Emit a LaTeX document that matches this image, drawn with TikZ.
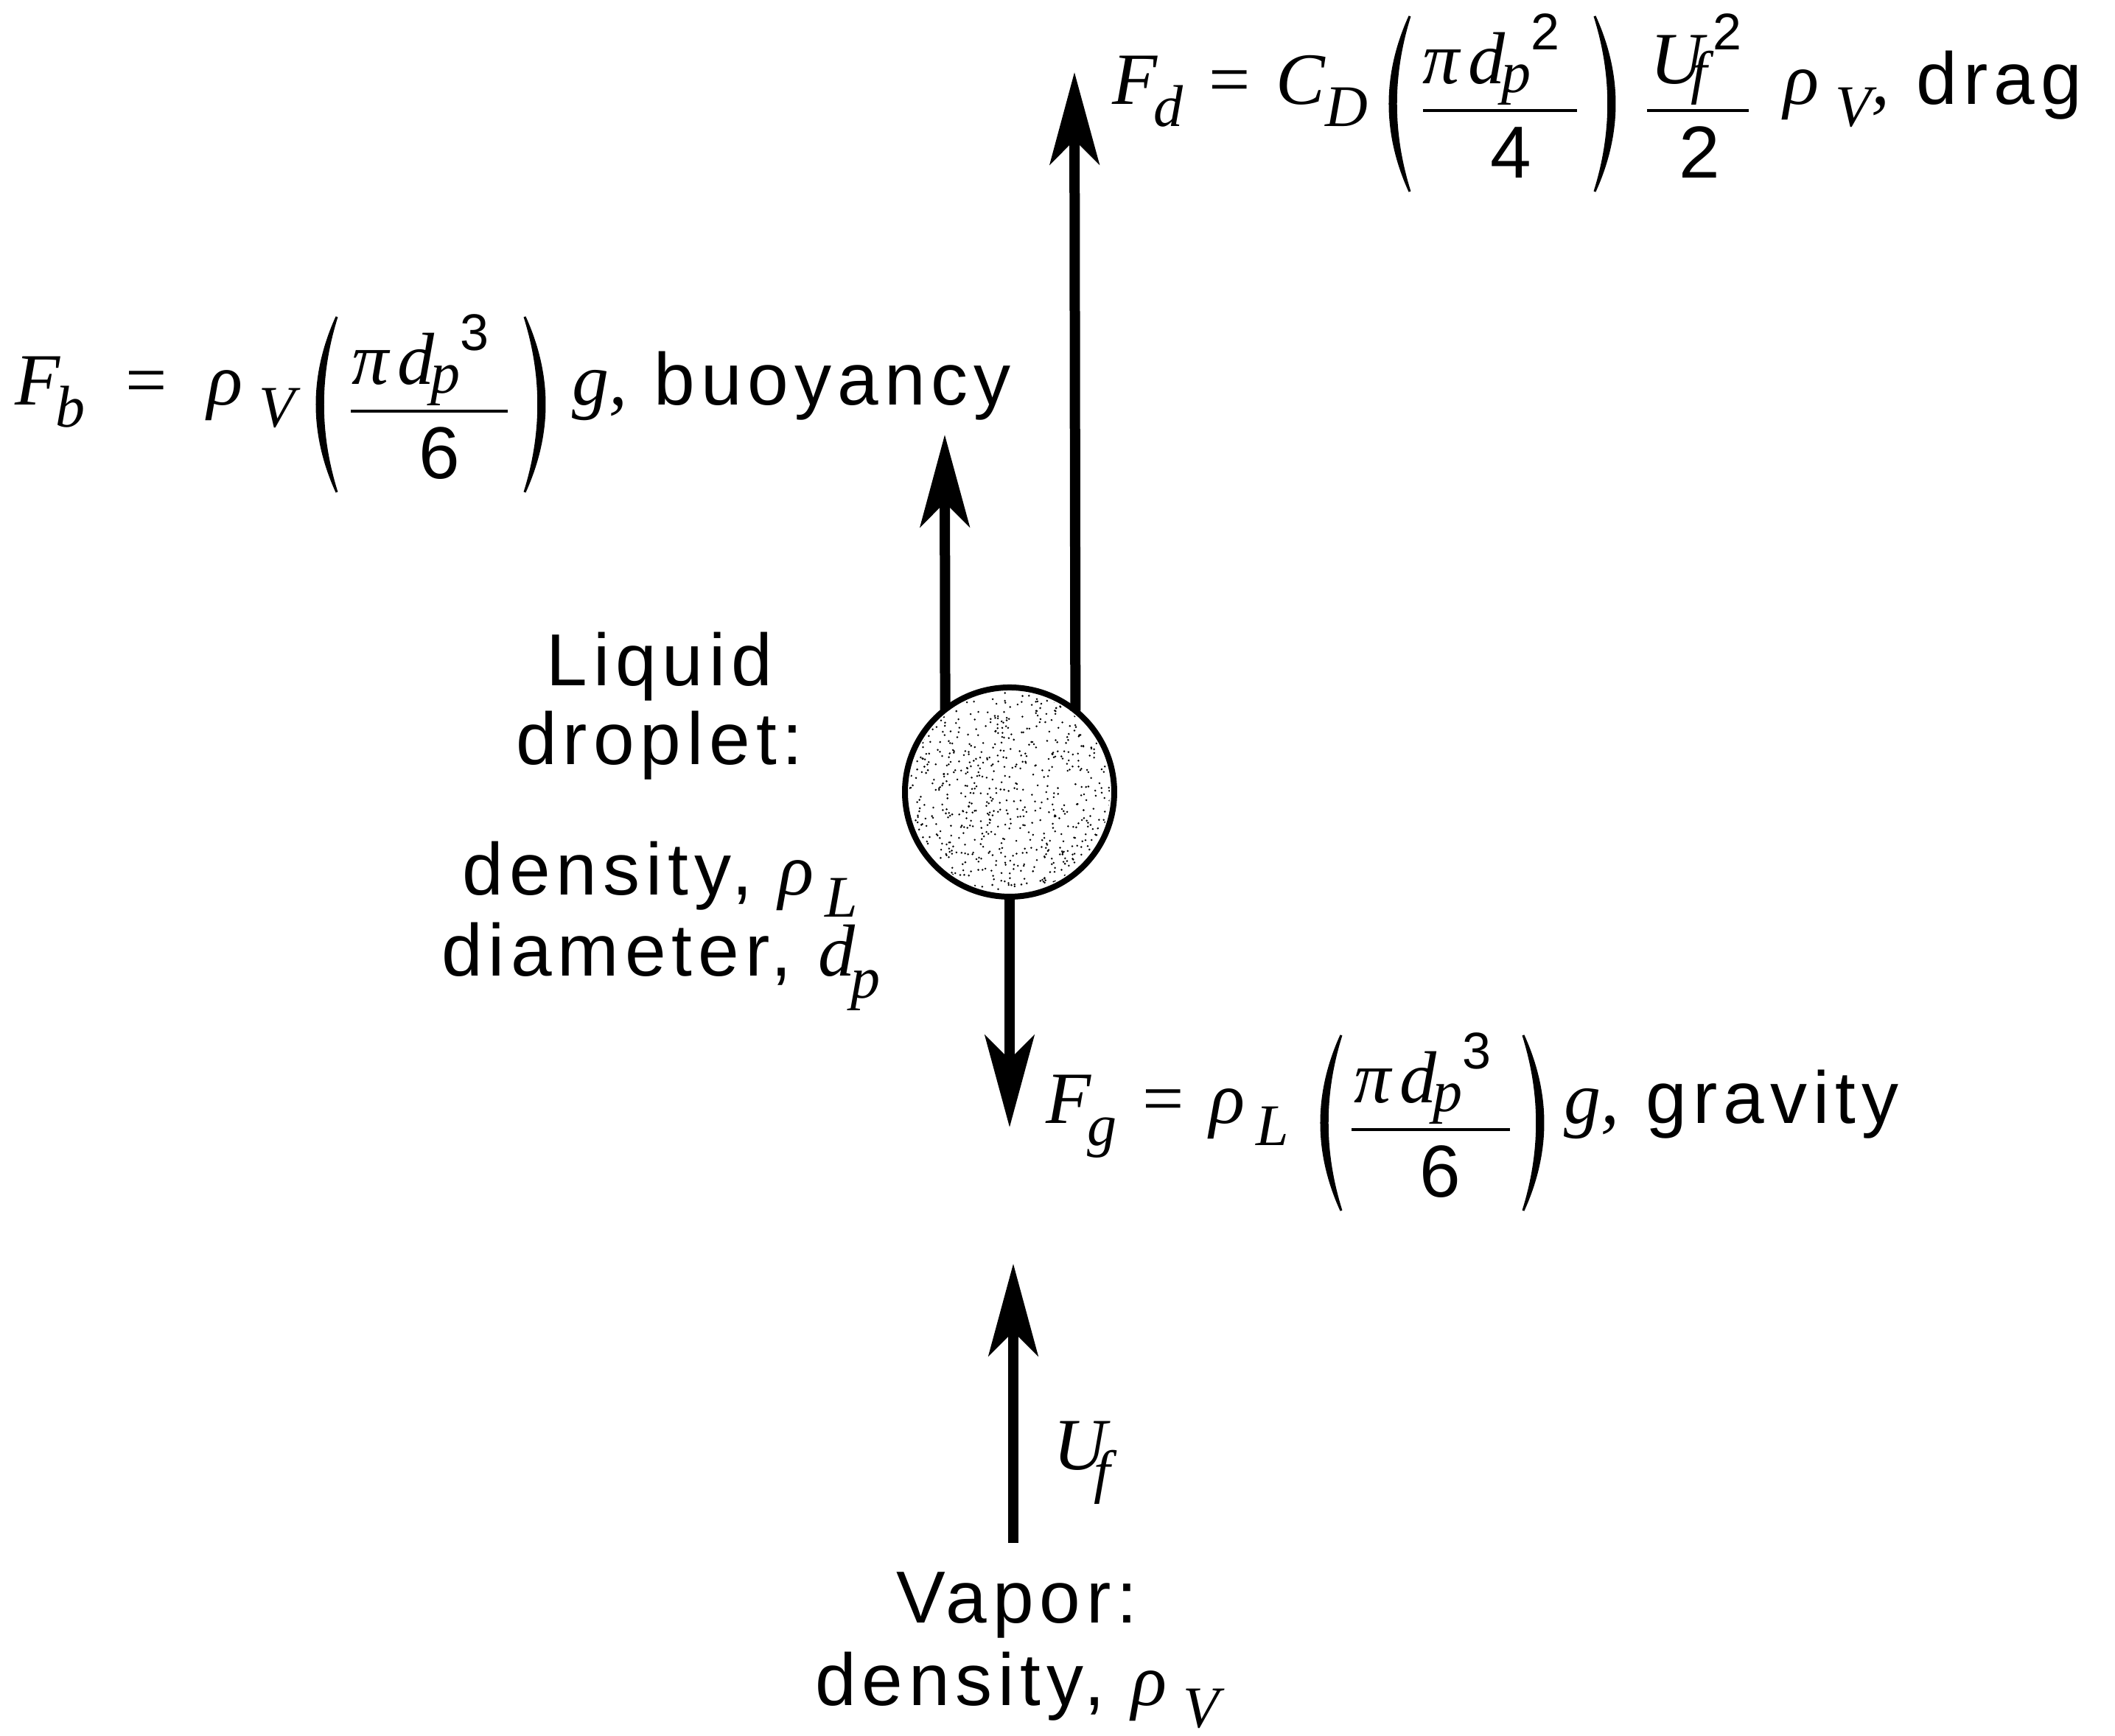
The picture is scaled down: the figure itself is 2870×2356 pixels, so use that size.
\documentclass[tikz,border=0pt]{standalone}
\usepackage{fontspec}
\setmainfont{Liberation Sans}[LetterSpace=8]
\newfontfamily\tms{Liberation Serif}
\usetikzlibrary{arrows.meta}
\newcommand\vi[1]{{\tms\itshape #1}}
\newcommand\sbs[1]{\raisebox{-3pt}{\fontsize{8}{8}\selectfont\tms\itshape #1}}
\newcommand\sbn[1]{\raisebox{-1.2pt}{\fontsize{8}{8}\selectfont\tms\itshape #1}}
\newcommand\sps[1]{\raisebox{4.6pt}{\fontsize{7}{7}\selectfont #1}}
% big parentheses as crescents: #1 = x of ends, #2 = top y, #3 = bottom y
\newcommand\Lpar[3]{\filldraw[line width=0.3pt] (#1,#2) .. controls ({#1-36},{#2+(#3-#2)/3}) and ({#1-36},{#2+2*(#3-#2)/3}) .. (#1,#3) .. controls ({#1-25},{#2+2*(#3-#2)/3}) and ({#1-25},{#2+(#3-#2)/3}) .. (#1,#2) -- cycle;}
\newcommand\Rpar[3]{\filldraw[line width=0.3pt] (#1,#2) .. controls ({#1+36},{#2+(#3-#2)/3}) and ({#1+36},{#2+2*(#3-#2)/3}) .. (#1,#3) .. controls ({#1+25},{#2+2*(#3-#2)/3}) and ({#1+25},{#2+(#3-#2)/3}) .. (#1,#2) -- cycle;}
\begin{document}
\begin{tikzpicture}[x=0.1pt,y=-0.1pt,
  ft/.style={inner sep=0pt,outer sep=0pt,anchor=base west},
  ct/.style={inner sep=0pt,outer sep=0pt,anchor=base},
  force/.style={line width=1.4pt,-{Stealth[length=12.5pt,width=6.7pt,inset=3.3pt]}},
  fbar/.style={line width=0.45pt},
  dropstyle/.style={circle,draw,line width=0.8pt,minimum size=28.4pt,inner sep=0pt,outer sep=0pt}]
\useasboundingbox (0,0) rectangle (2870,2356);

% droplet
\node[dropstyle] (drop) at (1370,1075) {};
\pgfmathsetseed{7}
\begin{scope}
\clip (1370,1075) circle (136);
\foreach \i in {1,...,650}{
  \pgfmathsetmacro\ang{360*rnd}
  \pgfmathsetmacro\rad{138*sqrt(rnd)}
  \pgfmathsetmacro\dx{\rad*cos(\ang)}
  \pgfmathsetmacro\dy{\rad*sin(\ang)}
  \fill ({1370+\dx},{1075+\dy}) circle (1.4);
}
\end{scope}

% arrows
\coordinate (tipd) at (1458,98);
\coordinate (tipb) at (1282,590);
\coordinate (tipg) at (1370,1530);
\coordinate (uftail) at (1375,2094);
\coordinate (uftip) at (1375,1715);
\draw[force] (drop.51.7) -- (tipd);
\draw[force] (drop.128.3) -- (tipb);
\draw[force] (drop.south) -- (tipg);
\draw[force] (uftail) -- (uftip);

% drag formula (baseline 142)
\node[ft] (fdL) at (1510,142) {\vi{F}\kern-0.6pt\sbs{d}\hspace{3.5pt}{\tms=}\hspace{3.5pt}\vi{C}\sbs{D}};
\Lpar{1913}{22}{260}
\node[ft] (fdn) at (1931,114) {\vi{π}\hspace{1.2pt}\vi{d}\kern-0.6pt\sbn{p}\sps{2}};
\draw[fbar] (1931,150) -- (2140,150);
\node[ct] (fdd) at (2050,242) {4};
\Rpar{2164}{22}{260}
\node[ft] (fun) at (2240,114) {\vi{U}\kern-1.8pt\sbn{f}\kern0.8pt\sps{2}};
\draw[fbar] (2235,150) -- (2373,150);
\node[ct] (fud) at (2306,242) {2};
\node[ft] (fdR) at (2421,142) {\vi{ρ}\kern2.2pt\sbs{V}\vi{,} drag};

% buoyancy formula (baseline 550)
\node[ft] (fbL) at (20,550) {\vi{F}\kern-0.6pt\sbs{b}\hspace{5.5pt}{\tms=}\hspace{5.5pt}\vi{ρ}\kern2.2pt\sbs{V}};
\Lpar{457}{430}{668}
\node[ft] (fbn) at (478,522) {\vi{π}\hspace{1.2pt}\vi{d}\kern-0.6pt\sbn{p}\sps{3}};
\draw[fbar] (476,558) -- (689,558);
\node[ct] (fbd) at (596,650) {6};
\Rpar{712}{430}{668}
\node[ft] (fbR) at (777,550) {\vi{g}\vi{,} buoyancy};

% gravity formula (baseline 1525)
\node[ft] (fgL) at (1420,1525) {\vi{F}\kern-0.6pt\sbs{g}\hspace{3.5pt}{\tms=}\hspace{3.5pt}\vi{ρ}\kern1.5pt\sbs{L}};
\Lpar{1820}{1405}{1643}
\node[ft] (fgn) at (1838,1497) {\vi{π}\hspace{1.2pt}\vi{d}\kern-0.6pt\sbn{p}\sps{3}};
\draw[fbar] (1834,1533) -- (2049,1533);
\node[ct] (fgd) at (1954,1625) {6};
\Rpar{2067}{1405}{1643}
\node[ft] (fgR) at (2123,1525) {\vi{g}\vi{,} gravity};

% droplet description
\node[ct] (liq1) at (895,931) {Liquid};
\node[ct] (liq2) at (895,1038) {droplet:};
\node[ct] (liq3) at (896,1215) {density, \vi{ρ}\kern1.5pt\sbs{L}};
\node[ct] (liq4) at (897,1325) {diameter, \vi{d}\kern-0.6pt\sbs{p}};

% vapour
\node[ft] (uf) at (1430,1995) {\vi{U}\kern-1.8pt\sbs{f}};
\node[ct] (vap1) at (1380,2203) {Vapor:};
\node[ct] (vap2) at (1380,2315) {density, \vi{ρ}\kern2.2pt\sbs{V}};
\end{tikzpicture}
\end{document}
